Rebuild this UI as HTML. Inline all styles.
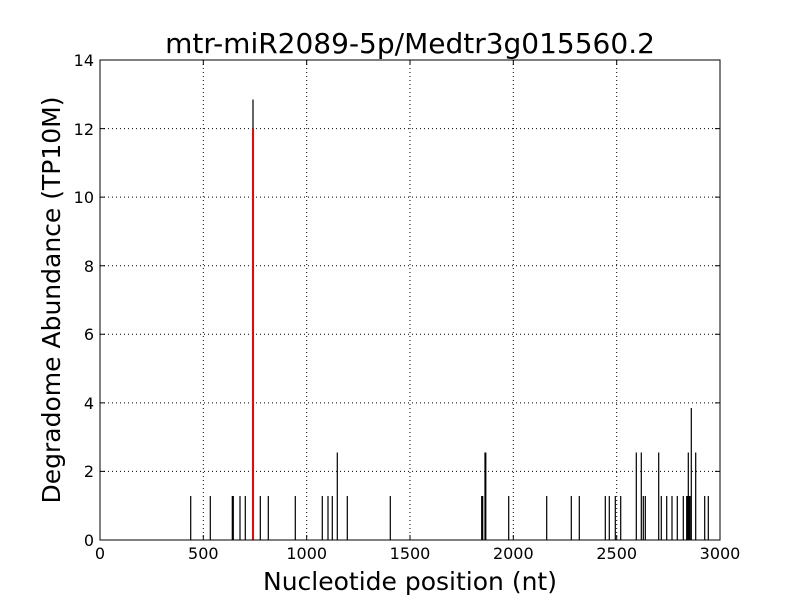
<!DOCTYPE html>
<html><head><style>body{margin:0;background:#fff}</style></head><body>
<svg width="800" height="600" xmlns="http://www.w3.org/2000/svg" font-family="DejaVu Sans, sans-serif">
<rect width="800" height="600" fill="#fff"/>
<g stroke="#000" stroke-width="1" stroke-dasharray="1,3">
<line x1="203.3" y1="60" x2="203.3" y2="540"/><line x1="306.7" y1="60" x2="306.7" y2="540"/><line x1="410" y1="60" x2="410" y2="540"/><line x1="513.3" y1="60" x2="513.3" y2="540"/><line x1="616.7" y1="60" x2="616.7" y2="540"/>
<line x1="100" y1="471.4" x2="720" y2="471.4"/><line x1="100" y1="402.9" x2="720" y2="402.9"/><line x1="100" y1="334.3" x2="720" y2="334.3"/><line x1="100" y1="265.7" x2="720" y2="265.7"/><line x1="100" y1="197.1" x2="720" y2="197.1"/><line x1="100" y1="128.6" x2="720" y2="128.6"/>
</g>
<g stroke="#000" stroke-width="1.2">
<path d="M190.7 540V496M210.3 540V496M232.3 540V496M233.3 540V496M240 540V496M245.3 540V496M260.3 540V496M268.3 540V496M295.3 540V496M322.3 540V496M328 540V496M332.3 540V496M347.3 540V496M390.3 540V496M337.3 540V452.5M253 540V99.5
M481.7 540V496M482.7 540V496M485 540V452.5M485.8 540V452.5M508.7 540V496M546.7 540V496M571.3 540V496M579.3 540V496M605.3 540V496M609.3 540V496M615.3 540V496M620.7 540V496M636.3 540V452.5M641.3 540V452.5M643.3 540V496M645.3 540V496M658.7 540V452.5M661.3 540V496M666.7 540V496M672 540V496M677.3 540V496M683.3 540V496M686.7 540V496M687.7 540V496M689 540V496M690 540V496M688.3 540V452.5M691.3 540V408M695.7 540V452.5M704.7 540V496M708.3 540V496"/>
</g>
<line x1="253" y1="540" x2="253" y2="128.6" stroke="#f00" stroke-width="2"/>
<rect x="100" y="60" width="620" height="480" fill="none" stroke="#000" stroke-width="1"/>
<g stroke="#000">
<path d="M100 540v-5M203.3 540v-5M306.7 540v-5M410 540v-5M513.3 540v-5M616.7 540v-5M720 540v-5M100 60v5M203.3 60v5M306.7 60v5M410 60v5M513.3 60v5M616.7 60v5M720 60v5"/>
<path d="M100 471.4h5M100 402.9h5M100 334.3h5M100 265.7h5M100 197.1h5M100 128.6h5M720 471.4h-5M720 402.9h-5M720 334.3h-5M720 265.7h-5M720 197.1h-5M720 128.6h-5"/>
</g>
<g font-size="16" text-anchor="middle">
<text x="100" y="559">0</text><text x="203.3" y="559">500</text><text x="306.7" y="559">1000</text><text x="410" y="559">1500</text><text x="513.3" y="559">2000</text><text x="616.7" y="559">2500</text><text x="720" y="559">3000</text>
</g>
<g font-size="16" text-anchor="end">
<text x="94" y="546">0</text><text x="94" y="477">2</text><text x="94" y="409">4</text><text x="94" y="340">6</text><text x="94" y="272">8</text><text x="94" y="203">10</text><text x="94" y="135">12</text><text x="94" y="66">14</text>
</g>
<text x="410" y="590" font-size="25" text-anchor="middle">Nucleotide position (nt)</text>
<text transform="translate(60,300) rotate(-90)" font-size="25" text-anchor="middle">Degradome Abundance (TP10M)</text>
<text x="410" y="53" font-size="28" text-anchor="middle">mtr-miR2089-5p/Medtr3g015560.2</text>
</svg>
</body></html>
